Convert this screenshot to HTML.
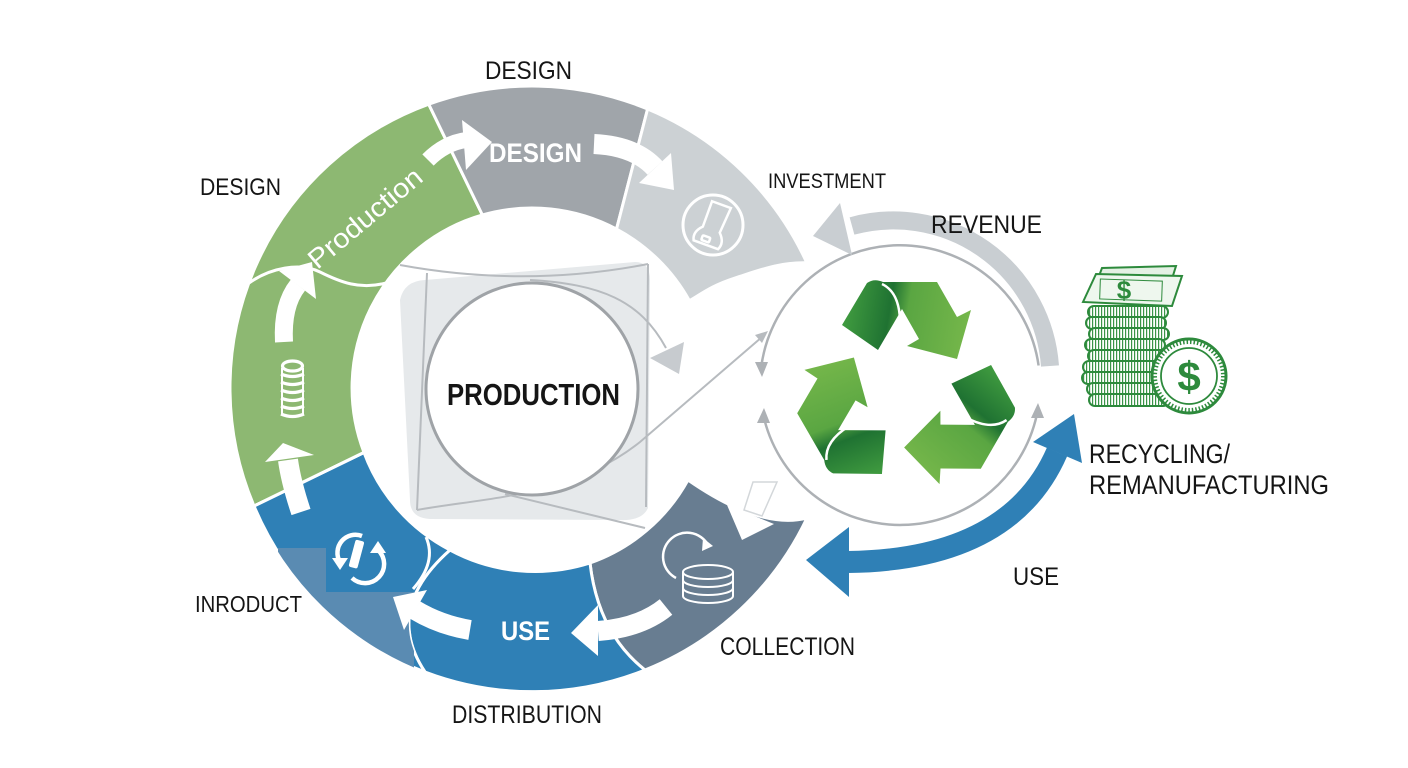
<!DOCTYPE html>
<html><head><meta charset="utf-8"><style>
html,body{margin:0;padding:0;background:#fff;}
svg{display:block;}
text{font-family:"Liberation Sans",Arial,sans-serif;fill:#151515;}
</style></head><body>
<svg width="1408" height="768" viewBox="0 0 1408 768" xmlns="http://www.w3.org/2000/svg">
<defs>
  <clipPath id="cpIn"><path d="M364,452.5 A180,180 0 0 0 450,550 Q383,609 425,672 A303,303 0 0 1 254,506 Z"/></clipPath>
  <linearGradient id="rg" gradientUnits="userSpaceOnUse" x1="-60" y1="-70" x2="60" y2="-50">
    <stop offset="0" stop-color="#3f9a3f"/>
    <stop offset="0.35" stop-color="#1f7232"/>
    <stop offset="0.5" stop-color="#5aa642"/>
    <stop offset="1" stop-color="#74b64a"/>
  </linearGradient>
  <pattern id="hatch" width="3" height="12" patternUnits="userSpaceOnUse">
    <rect width="3" height="12" fill="#fff"/><rect width="1.2" height="12" fill="#3a9448"/>
  </pattern>
  <g id="rp">
    <path d="M-63,-63 L-38,-105 Q-31,-110 -22,-106 L32,-106 L52,-71 L66,-78 L52,-29 L2,-42 L14,-49 L-3,-79 L-27,-38 Z" fill="url(#rg)"/>
    <path d="M-23,-104 Q-6,-96 -5,-68" fill="none" stroke="#fff" stroke-width="2.5"/>
  </g>
</defs>
<rect width="1408" height="768" fill="#fff"/>

<!-- ring segments -->
<g stroke="#fff" stroke-width="3" stroke-linejoin="round">
  <path d="M254,506 A302,302 0 0 1 428.7,104.2 L482.4,215 A180,180 0 0 0 364,452.5 Z" fill="#8db872"/>
  <path d="M428.7,104.2 A302,302 0 0 1 647.6,109 L616.5,229.1 A180,180 0 0 0 482.4,215 Z" fill="#a0a5aa"/>
  <path d="M647.6,109 A302,302 0 0 1 806.8,262.8 C780,262 760,270 735,278 S700,295 689.4,300.7 A180,180 0 0 0 616.5,229.1 Z" fill="#ccd1d4"/>
  <path d="M590,563 A180,180 0 0 0 688,480 Q760,530 807,518 A303,303 0 0 1 645,670 Q598,633 590,563 Z" fill="#687d91"/>
  <path d="M450,550 A180,180 0 0 0 590,563 Q598,633 645,670 A303,303 0 0 1 425,672 Q383,609 450,550 Z" fill="#2f80b6"/>
  <path d="M364,452.5 A180,180 0 0 0 450,550 Q383,609 425,672 A303,303 0 0 1 254,506 Z" fill="#2f80b6"/>
</g>
<!-- faded patch -->
<g clip-path="url(#cpIn)">
  <polygon points="278,548 326,548 326,592 414,592 414,685 278,685" fill="#5a8bb2"/>
</g>
<path d="M426,537 Q437,562 413,589" fill="none" stroke="#fff" stroke-width="3"/>
<path d="M364,452.5 L254,506" stroke="#fff" stroke-width="3"/>
<!-- wavy line in green -->
<path d="M249,283 C270,268 300,262 320,272 S360,290 386,283" fill="none" stroke="#fff" stroke-width="3"/>

<!-- white arrows -->
<g fill="#fff">
  <path d="M428,160 Q445,143 466,140" fill="none" stroke="#fff" stroke-width="16"/>
  <polygon points="462,120 492,142 466,170"/>
  <path d="M594,144 Q635,146 655,168" fill="none" stroke="#fff" stroke-width="20"/>
  <polygon points="671,153 674,190 639,183"/>
  <path d="M284,342 Q282,305 298,285" fill="none" stroke="#fff" stroke-width="18"/>
  <polygon points="279,271 312,262 316,299"/>
  <path d="M301,512 Q291,482 288,460" fill="none" stroke="#fff" stroke-width="20"/>
  <polygon points="265,462 283,443 314,455"/>
  <path d="M470,630 Q440,625 415,610" fill="none" stroke="#fff" stroke-width="20"/>
  <polygon points="427,590 393,597 404,630"/>
  <path d="M666,607 Q640,628 598,631" fill="none" stroke="#fff" stroke-width="20"/>
  <polygon points="598,605 571,633 598,656"/>
  <polygon points="753,482 777,482 762,516 744,510" stroke="#d3d7da" stroke-width="1.5"/>
  <polygon points="727,505 774,524 742,540"/>
</g>

<!-- barrel icon -->
<g fill="none" stroke="#fff" stroke-width="3.2">
  <ellipse cx="292.5" cy="366" rx="10" ry="5"/>
  <path d="M281,374 q11.5,5 23,0 M281,382 q11.5,5 23,0 M281,390 q11.5,5 23,0 M281,398 q11.5,5 23,0 M281,406 q11.5,5 23,0 M281,414 q11.5,5 23,0"/>
  <path d="M282,368 L282,414 M303,368 L303,414" stroke-width="2"/>
</g>
<!-- recycle icon INRODUCT -->
<g fill="none" stroke="#fff" stroke-width="4.5">
  <path d="M340,562 A18,18 0 0 1 362,536"/>
  <path d="M378,550 A18,18 0 0 1 352,578"/>
</g>
<polygon points="332,558 348,558 340,570" fill="#fff"/>
<polygon points="370,553 386,553 378,541" fill="#fff"/>
<rect x="352" y="540" width="9" height="28" rx="2" fill="#fff" transform="rotate(15 356 554)"/>
<!-- light gray icon -->
<circle cx="713" cy="225" r="30" fill="none" stroke="#fff" stroke-width="3"/>
<g transform="rotate(20 713 225)" fill="none" stroke="#fff" stroke-width="2.5">
  <path d="M704,203 L724,203 L722,230 Q730,238 726,246 L700,246 Q696,238 704,230 Z"/>
  <rect x="707" y="238" width="8" height="5" rx="1"/>
</g>
<!-- slate icon -->
<path d="M676,578 A24,24 0 1 1 708,545" fill="none" stroke="#fff" stroke-width="2.5"/>
<polygon points="703,538 713,546 702,551" fill="#fff"/>
<g fill="#687d91" stroke="#fff" stroke-width="2">
  <path d="M683,572 L683,596 A25,7 0 0 0 733,596 L733,572"/>
  <ellipse cx="708" cy="572" rx="25" ry="7"/>
  <path d="M683,580 A25,7 0 0 0 733,580 M683,588 A25,7 0 0 0 733,588" fill="none"/>
</g>

<!-- inner box -->
<path d="M400,300 Q404,281 425,280 L635,262 Q650,262 650,280 L648,508 Q642,521 620,520 L430,519 Q410,518 410,500 Z" fill="#e6e9eb"/>
<g fill="none" stroke="#b7bbbf" stroke-width="2">
  <path d="M400,265 Q525,288 648,264"/>
  <path d="M427,273 L417,510"/>
  <path d="M648,264 L646,507"/>
  <path d="M417,510 C480,498 570,498 640,442 L762,337"/>
  <path d="M505,494 L645,528"/>
  <path d="M530,280 C600,284 640,300 666,348"/>
</g>
<polygon points="650,358 684,342 679,374" fill="#c7cbcf"/>
<polygon points="768,331 755,335 762,343" fill="#b7bbbf"/>
<circle cx="532" cy="389" r="106" fill="#fff" stroke="#9fa3a7" stroke-width="3"/>

<!-- recycle circle -->
<g fill="none" stroke="#adb1b5" stroke-width="2.5">
  <path d="M1038.6,365.5 A140,140 0 0 0 760.8,370.4"/>
  <path d="M763.1,414.1 A140,140 0 0 0 1037.9,409.3"/>
</g>
<g fill="#adb1b5">
  <polygon points="755,362 768,362 762,377"/>
  <polygon points="757,423 770,423 764,408"/>
  <polygon points="1031,418 1044,418 1038,403"/>
</g>

<!-- revenue arc -->
<path d="M1050,366 A157,157 0 0 0 852,226" fill="none" stroke="#c9ced2" stroke-width="18"/>
<polygon points="840,203 852,255 813,236" fill="#c9ced2"/>

<!-- blue double arrow -->
<path d="M1057,452 Q1010,560 848,562" fill="none" stroke="#2f80b6" stroke-width="22"/>
<polygon points="1033,442 1074,414 1082,463" fill="#2f80b6"/>
<polygon points="849,527 806,560 849,597" fill="#2f80b6"/>

<!-- recycle symbol -->
<g transform="translate(905,388)">
  <use href="#rp"/>
  <use href="#rp" transform="rotate(120)"/>
  <use href="#rp" transform="rotate(240)"/>
</g>

<!-- money -->
<g stroke="#2d8a3c" stroke-width="2">
  <polygon points="1090,300 1102,268 1176,266 1166,298" fill="#e4f1e4"/>
  <polygon points="1083,302 1096,274 1182,276 1172,306" fill="#eef7ee"/>
  <rect x="1100" y="280" width="62" height="20" fill="none" stroke-width="1" transform="rotate(2 1130 290)"/>
  <rect x="1088" y="306" width="80" height="12" rx="6" fill="url(#hatch)"/>
  <rect x="1086" y="317" width="80" height="12" rx="6" fill="url(#hatch)"/>
  <rect x="1089" y="328" width="80" height="12" rx="6" fill="url(#hatch)"/>
  <rect x="1085" y="339" width="80" height="12" rx="6" fill="url(#hatch)"/>
  <rect x="1088" y="350" width="80" height="12" rx="6" fill="url(#hatch)"/>
  <rect x="1083" y="361" width="80" height="12" rx="6" fill="url(#hatch)"/>
  <rect x="1082" y="372" width="80" height="12" rx="6" fill="url(#hatch)"/>
  <rect x="1087" y="383" width="80" height="12" rx="6" fill="url(#hatch)"/>
  <rect x="1089" y="394" width="80" height="12" rx="6" fill="url(#hatch)"/>
  <circle cx="1189" cy="376" r="37" fill="#fff" stroke-width="3"/>
  <circle cx="1189" cy="376" r="34" fill="none" stroke-width="4" stroke-dasharray="1.5 2"/>
  <circle cx="1189" cy="376" r="28" fill="#fff" stroke-width="1.8"/>
</g>
<text x="1124" y="299" font-size="26" font-weight="bold" text-anchor="middle" style="fill:#2d8a3c">$</text>
<text x="1189" y="391" font-size="42" font-weight="bold" text-anchor="middle" style="fill:#2d8a3c">$</text>

<!-- labels -->
<text x="485" y="79" font-size="25" textLength="87" lengthAdjust="spacingAndGlyphs">DESIGN</text>
<text x="200" y="195" font-size="24" textLength="81" lengthAdjust="spacingAndGlyphs">DESIGN</text>
<text x="489" y="162" font-size="27" font-weight="bold" textLength="93" lengthAdjust="spacingAndGlyphs" style="fill:#fff">DESIGN</text>
<text x="768" y="188" font-size="21" textLength="118" lengthAdjust="spacingAndGlyphs">INVESTMENT</text>
<text x="931" y="233" font-size="25" textLength="111" lengthAdjust="spacingAndGlyphs">REVENUE</text>
<text x="447" y="405" font-size="31" font-weight="bold" textLength="173" lengthAdjust="spacingAndGlyphs">PRODUCTION</text>
<text x="1089" y="463" font-size="27" textLength="141" lengthAdjust="spacingAndGlyphs">RECYCLING/</text>
<text x="1089" y="494" font-size="27" textLength="240" lengthAdjust="spacingAndGlyphs">REMANUFACTURING</text>
<text x="1013" y="585" font-size="25" textLength="46" lengthAdjust="spacingAndGlyphs">USE</text>
<text x="195" y="612" font-size="23" textLength="107" lengthAdjust="spacingAndGlyphs">INRODUCT</text>
<text x="501" y="640" font-size="27" font-weight="bold" textLength="49" lengthAdjust="spacingAndGlyphs" style="fill:#fff">USE</text>
<text x="720" y="655" font-size="25" textLength="135" lengthAdjust="spacingAndGlyphs">COLLECTION</text>
<text x="452" y="723" font-size="25" textLength="150" lengthAdjust="spacingAndGlyphs">DISTRIBUTION</text>
<text x="0" y="0" font-size="27" text-anchor="middle" textLength="140" lengthAdjust="spacingAndGlyphs" transform="translate(371,225) rotate(-40)" style="fill:#fff">Production</text>
</svg>
</body></html>
